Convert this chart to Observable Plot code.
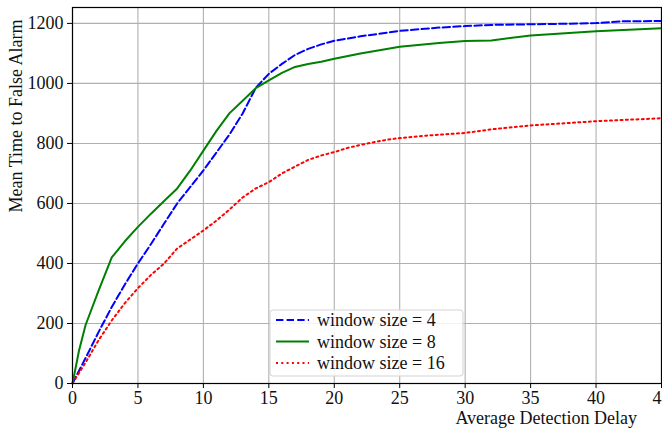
<!DOCTYPE html>
<html><head><meta charset="utf-8">
<script src="https://cdn.jsdelivr.net/npm/d3@7"></script>
<script src="https://cdn.jsdelivr.net/npm/@observablehq/plot@0.6"></script>
<style>
body{margin:0;background:#fff;}
#wrap{position:relative;width:662px;height:429px;}
</style></head>
<body><div id="wrap"></div>
<script>
// Data
const seriesNames = ["window size = 4", "window size = 8", "window size = 16"];
const delayW4 = [0, 1, 2, 3, 4, 5, 6, 7, 8, 9, 10, 11, 12, 13, 14, 15, 16, 17, 18, 19, 20, 22, 25, 28, 30, 32, 35, 38, 40, 42, 45];
const mttfaW4 = [0, 85, 172, 255, 330, 400, 465, 533, 600, 655, 710, 770, 830, 900, 985, 1032, 1065, 1095, 1115, 1130, 1142, 1157, 1175, 1186, 1191, 1195, 1197, 1199, 1201, 1207, 1208];
const delayW8 = [0, 0.5, 1, 2, 3, 4, 5, 6, 7, 8, 9, 10, 11, 12, 13, 14, 15, 16, 17, 18, 19, 20, 22, 25, 28, 30, 32, 35, 40, 45];
const mttfaW8 = [0, 110, 195, 310, 420, 474, 522, 566, 608, 650, 710, 776, 842, 901, 942, 984, 1010, 1035, 1055, 1065, 1072, 1082, 1100, 1122, 1135, 1141, 1143, 1160, 1174, 1184];
const delayW16 = [0, 1, 2, 3, 4, 5, 6, 7, 8, 9, 10, 11, 12, 13, 14, 15, 16, 17, 18, 19, 20, 21, 22, 23, 24, 25, 27, 30, 32, 35, 40, 45];
const mttfaW16 = [0, 70, 145, 210, 268, 318, 362, 400, 450, 480, 510, 543, 580, 620, 650, 671, 700, 723, 745, 760, 771, 785, 795, 804, 812, 818, 826, 835, 847, 860, 874, 884];
const xTicks = [0, 5, 10, 15, 20, 25, 30, 35, 40, 45];
const yTicks = [0, 200, 400, 600, 800, 1000, 1200];
const xLabel = "Average Detection Delay";
const yLabel = "Mean Time to False Alarm";

const FONT = "'Liberation Serif'";
const styles = [
  {stroke: "#0000ff", dash: "7.4,3.2"},
  {stroke: "#008000", dash: null},
  {stroke: "#ff0000", dash: "2,3.3"}
];
const pairs = [[delayW4, mttfaW4], [delayW8, mttfaW8], [delayW16, mttfaW16]];
const rows = [];
pairs.forEach(([xs, ys], i) => xs.forEach((x, j) => rows.push({series: seriesNames[i], x, y: ys[j]})));

const W = 662, H = 429, mL = 72, mR = 1, mT = 7, mB = 46;
const lineMarks = seriesNames.map((name, i) => Plot.line(rows.filter(d => d.series === name), {
  x: "x", y: "y", stroke: styles[i].stroke, strokeWidth: 2, strokeDasharray: styles[i].dash, curve: "linear"
}));

const svg = Plot.plot({
  width: W, height: H,
  marginLeft: mL, marginRight: mR, marginTop: mT, marginBottom: mB,
  style: {fontFamily: FONT, fontSize: "18px", color: "#111", background: "white", overflow: "visible"},
  x: {domain: [0, 45], ticks: xTicks},
  y: {domain: [0, 1253], ticks: yTicks},
  marks: [
    Plot.gridX(xTicks, {stroke: "#b0b0b0", strokeOpacity: 1, strokeWidth: 1.1}),
    Plot.gridY(yTicks, {stroke: "#b0b0b0", strokeOpacity: 1, strokeWidth: 1.1}),
    ...lineMarks,
    Plot.frame({stroke: "black", strokeWidth: 1.2}),
    Plot.axisX(xTicks, {label: null, tickSize: 5, tickPadding: 3, stroke: "black", fontSize: 18, tickFormat: d => String(d)}),
    Plot.axisY(yTicks, {label: null, tickSize: 5, tickPadding: 4, stroke: "black", fontSize: 18, tickFormat: d => String(d)})
  ]
});
document.getElementById("wrap").appendChild(svg);

const s = d3.select(svg);
s.append("text").text(xLabel)
  .attr("x", 637).attr("y", 424).attr("text-anchor", "end")
  .attr("font-size", 18).attr("fill", "#111");
s.append("text").text(yLabel)
  .attr("transform", "translate(22,116) rotate(-90)")
  .attr("text-anchor", "middle").attr("font-size", 18).attr("fill", "#111");

// Legend (inside the SVG so it inherits the serif font)
const lg = s.append("g").attr("transform", "translate(270,310)");
lg.append("rect").attr("width", 193).attr("height", 66).attr("rx", 3)
  .attr("fill", "white").attr("fill-opacity", 0.85).attr("stroke", "#d3d3d3");
seriesNames.forEach((name, i) => {
  const cy = 10 + i * 21.5;
  lg.append("line").attr("x1", 6).attr("x2", 39).attr("y1", cy).attr("y2", cy)
    .attr("stroke", styles[i].stroke).attr("stroke-width", 2)
    .attr("stroke-dasharray", styles[i].dash);
  lg.append("text").text(name).attr("x", 47).attr("y", cy).attr("dy", "0.35em")
    .attr("text-anchor", "start").attr("font-size", 18).attr("fill", "#111");
});
</script></body></html>
